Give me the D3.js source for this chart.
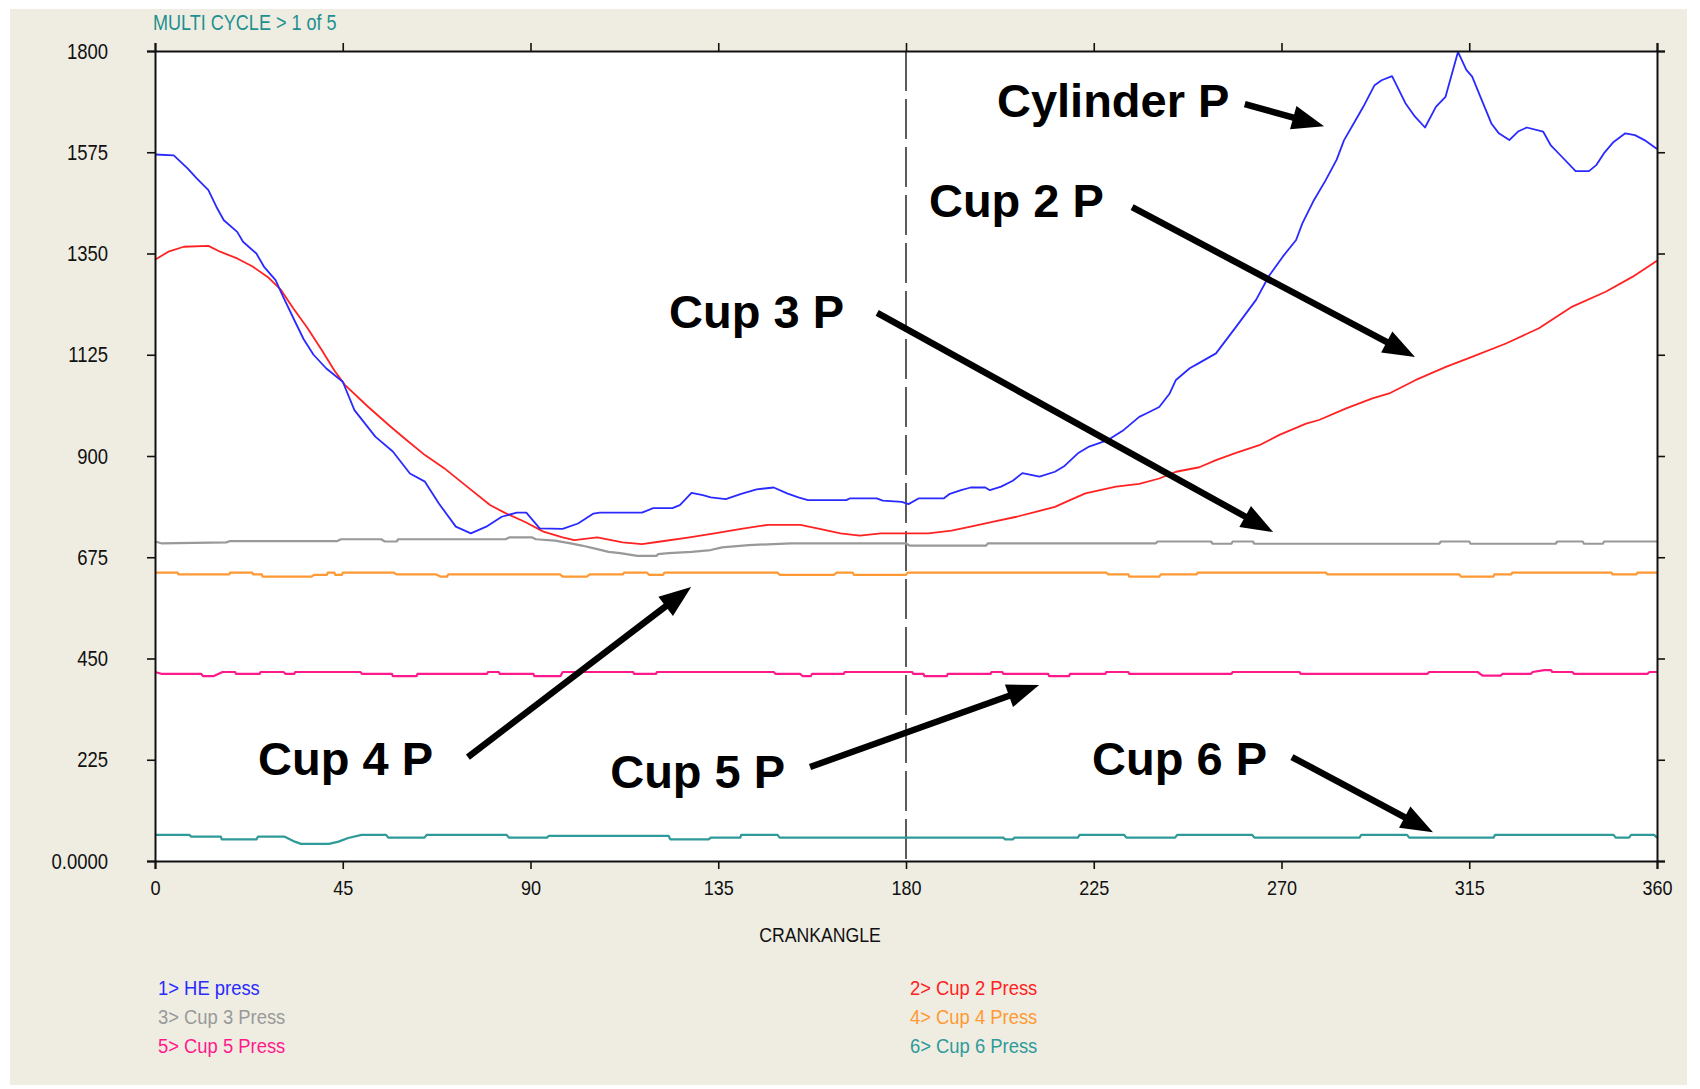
<!DOCTYPE html>
<html>
<head>
<meta charset="utf-8">
<script src="https://cdn.jsdelivr.net/npm/d3@7"></script>
<style>
  html, body { margin: 0; padding: 0; background: #ffffff; }
  svg { display: block; }
  .ui { font-family: "Liberation Sans", Arial, sans-serif; }
  .ann { font-family: "Liberation Sans", Arial, sans-serif; font-weight: bold; }
</style>
</head>
<body>
<svg id="chart" width="1700" height="1089"></svg>
<script>
// ---------------- DATA ----------------
const chartTitle = "MULTI CYCLE > 1 of 5";
const xAxisTitle = "CRANKANGLE";
const angleTicks = [0, 45, 90, 135, 180, 225, 270, 315, 360];
const pressureTicks = [0, 225, 450, 675, 900, 1125, 1350, 1575, 1800];
const pressureTickLabels = ["0.0000", "225", "450", "675", "900", "1125", "1350", "1575", "1800"];
const markerAngle = 180;

const heAngle = [0,4.5,7.8,10,12.8,14.7,16.5,19.7,21.1,24.3,26.1,28.9,30.7,33.5,35.6,38,41,45,47.8,52.8,57,61.1,64.7,68,72.1,75.7,79.4,83.1,86.7,89,92.2,97.7,101.4,105.1,106.6,116.7,119.4,124,125.8,128.6,131.3,133.2,136.8,140.5,144.2,148.3,151.5,154.2,156.5,165.7,166.6,173,174.4,179,180.6,183.1,189.1,190.5,193.2,195.5,199,200.1,202.8,205.6,207.9,212,215.7,218,221.2,223.9,228.5,232.2,235.9,237.7,240.7,243.2,244.7,248,250.3,254.3,259.1,263.9,267,270.3,273.5,275,277.8,280.6,283.2,285,287.3,289.6,292.3,294,296.5,299.7,302,304.4,307,309.3,312.3,314.3,315.7,318,320.3,322.1,324.6,326.7,328.8,332.7,334.5,337.2,340.5,343.7,345.5,347.3,349.6,352.4,354.7,357,360];
const heP = [1570,1568,1539,1517,1491,1454,1424,1398,1376,1350,1321,1291,1254,1200,1160,1125,1095,1065,1002,943,910,861,843,795,743,728,743,765,774,774,739,738,750,772,774,774,784,784,791,818,813,808,804,816,826,830,817,808,802,802,806,806,801,798,793,806,806,816,824,830,830,824,832,845,862,854,865,878,906,921,936,958,987,995,1009,1039,1069,1095,1107,1128,1187,1247,1300,1343,1380,1417,1469,1513,1558,1602,1639,1676,1724,1735,1744,1684,1654,1630,1676,1698,1798,1758,1743,1691,1639,1617,1602,1621,1630,1621,1591,1565,1533,1533,1547,1573,1598,1617,1613,1602,1582];

const cup2Angle = [0,3.2,6.9,12.8,15.6,19.7,23.4,27,30.2,33,36.5,40,43,45.5,51,56.5,60.2,64.7,69.3,74.8,80.3,84,88.6,93.1,97.7,100.5,106,112.1,116.7,121.2,128.1,134.1,140.5,146.9,154.7,159.3,164.3,168.9,174,185.4,190.9,195.5,201,206.5,211.1,215.7,219.3,223,230.3,235.9,240.7,244.7,250.3,254.3,259.1,264.7,269.5,275.9,279,285.5,291.8,295.8,302.2,309.4,315.8,323.8,331.7,339.7,347.7,354.1,360];
const cup2P = [1336,1354,1365,1367,1354,1339,1321,1298,1269,1230,1185,1135,1090,1058,1010,965,936,902,873,832,791,773,754,732,719,713,719,708,704,710,719,728,738,747,747,738,728,723,728,728,734,743,754,765,776,787,802,817,832,838,850,865,875,891,907,924,947,972,980,1006,1028,1039,1069,1098,1121,1150,1184,1232,1265,1298,1334];

const cup3Angle = [0,1.5,17.1,18,43.7,44.6,54.2,55.1,57.9,58.3,84,84.9,90.4,91.3,95.9,99.6,102.3,106,108.7,111.5,115.6,120.2,120.6,123.1,128.6,133.2,135.9,142.3,152.4,179.9,180.8,199.2,199.6,239.9,240.3,253.1,253.5,258,258.3,263.1,263.5,307.8,308.2,315,315.3,335.7,336.1,342.2,342.5,347,347.3,360];
const cup3P = [710,706,708,711,711,715,715,710,710,715,715,719,719,715,712,706,701,693,687,684,678,678,682,684,687,691,697,702,706,706,701,701,706,706,710,710,705,705,710,710,705,705,710,710,705,705,710,710,705,705,710,710];

const cup4Angle = [0,5.4,5.6,17.8,18,23.3,23.5,25.6,25.8,37.5,38.2,41.2,41.4,43,43.2,44.8,45,57.2,57.9,67.3,68.4,70,70.3,97.1,97.7,103.5,104.2,112.2,112.4,117.9,118.4,121.8,122.1,149.2,149.7,162.7,163.4,167.2,167.5,180,180.4,228,228.5,233.3,233.5,240.7,241.1,249.7,249.9,280.6,281,312.6,313,320.8,321,325.1,325.3,349.1,349.3,355.1,355.3,360];
const cup4P = [641,641,637,637,641,641,637,637,632,632,636,636,641,641,636,636,641,641,637,637,632,632,637,637,632,632,637,637,641,641,636,636,641,641,636,636,641,641,636,636,641,641,637,637,632,632,637,637,641,641,637,637,632,632,637,637,641,641,637,637,641,641];

const cup5Angle = [0,1.5,11.1,11.5,14.1,16.2,19.2,19.4,25.1,25.3,30.8,31.3,33.4,33.6,49.2,49.6,56.8,57,62.7,62.9,79.6,79.8,82.4,82.6,90.7,90.9,97.2,97.7,114.6,114.8,120.1,120.3,148.3,148.7,154.6,155.2,157.2,157.5,165.1,165.3,181.5,181.7,184.2,184.4,189.8,190,200.3,200.5,203.1,203.3,214.1,214.3,219.1,219.3,227.8,228,233.3,233.5,258,258.3,274.3,274.6,305,305.4,317,318.2,322.6,323,329.8,330.2,333,334.6,334.9,339.7,340.1,357.7,358.2,360];
const cup5P = [420,416,416,411,411,420,420,416,416,420,420,416,416,420,420,416,416,411,411,416,416,420,420,416,416,411,411,420,420,416,416,420,420,416,416,411,411,416,416,420,420,416,416,411,411,416,416,420,420,416,416,411,411,416,416,420,420,416,416,420,420,416,416,420,420,412,412,416,416,420,424,424,420,420,416,416,420,420];

const cup6Angle = [0,8.2,8.7,15.8,16,24.3,24.7,31.1,33.5,35,41.7,44,46.3,49.5,55.4,55.9,64.6,65.1,84.3,84.8,94,94.4,123.1,123.5,132.7,133.2,140.3,140.5,149.2,149.7,203.3,203.8,205.6,206,221.2,221.6,232.3,232.8,244.5,245,263,263.5,288.7,289.1,300.1,300.6,320.8,321.2,349.6,350.1,353.3,353.8,359.3,360];
const cup6P = [58,58,54,54,48,48,54,54,43,38,38,43,51,58,58,52,52,58,58,52,52,56,56,48,48,52,52,58,58,52,52,48,48,52,52,58,58,52,52,58,58,52,52,58,58,52,52,58,58,52,52,58,58,52];

const seriesNames = ["1> HE press", "2> Cup 2 Press", "3> Cup 3 Press", "4> Cup 4 Press", "5> Cup 5 Press", "6> Cup 6 Press"];
const seriesColors = ["#2a2aff", "#ff2222", "#999999", "#ff9933", "#ff1a8c", "#2e9a9a"];

// annotations in data coordinates: [label, textAngle, textValue, arrowFromAngle, arrowFromValue, arrowToAngle, arrowToValue]
const annLabels = ["Cylinder P", "Cup 2 P", "Cup 3 P", "Cup 4 P", "Cup 5 P", "Cup 6 P"];
const annTextAngle = [201.8, 185.5, 123.2, 24.7, 109.1, 224.6];
const annTextValue = [1653, 1431, 1184, 191, 162, 191];
const annFromAngle = [261.2, 234.2, 173.1, 75, 157, 272.5];
const annFromValue = [1682, 1453, 1218, 231, 209, 231];
const annToAngle = [280.2, 302, 268, 128.5, 211.9, 306.3];
const annToValue = [1633, 1120, 731, 609, 391, 64];

// ---------------- DRAW ----------------
const svg = d3.select("#chart");
const W = 1700, H = 1089;
const plot = { left: 155, right: 1657, top: 51, bottom: 861 };

svg.append("rect").attr("x", 0).attr("y", 0).attr("width", W).attr("height", H).attr("fill", "#ffffff");
svg.append("rect").attr("x", 10).attr("y", 9).attr("width", 1677).attr("height", 1076).attr("fill", "#efede2");

const x = d3.scaleLinear().domain([0, 360]).range([plot.left, plot.right]);
const y = d3.scaleLinear().domain([0, 1800]).range([plot.bottom, plot.top]);

svg.append("rect").attr("x", plot.left).attr("y", plot.top)
  .attr("width", plot.right - plot.left).attr("height", plot.bottom - plot.top)
  .attr("fill", "#ffffff");

// dashed marker at 180
svg.append("line")
  .attr("x1", x(markerAngle)).attr("x2", x(markerAngle))
  .attr("y1", plot.top).attr("y2", plot.bottom)
  .attr("stroke", "#333").attr("stroke-width", 1.6)
  .attr("stroke-dasharray", "40,8");

// series
const series = [
  [heAngle, heP], [cup2Angle, cup2P], [cup3Angle, cup3P],
  [cup4Angle, cup4P], [cup5Angle, cup5P], [cup6Angle, cup6P]
];
const drawOrder = [5, 4, 3, 2, 1, 0];
const line = d3.line().x(d => x(d[0])).y(d => y(d[1]));
drawOrder.forEach(i => {
  const [a, v] = series[i];
  const pts = a.map((ang, k) => [ang, v[k]]);
  svg.append("path").datum(pts)
    .attr("d", line)
    .attr("fill", "none")
    .attr("stroke", seriesColors[i])
    .attr("stroke-width", i < 2 ? 1.8 : 2.2)
    .attr("stroke-linejoin", "round");
});

// axes
const fmtY = d => pressureTickLabels[pressureTicks.indexOf(d)];
const axB = svg.append("g").attr("transform", `translate(0,${plot.bottom})`)
  .call(d3.axisBottom(x).tickValues(angleTicks).tickSize(8).tickPadding(11).tickFormat(d3.format("d")));
const axT = svg.append("g").attr("transform", `translate(0,${plot.top})`)
  .call(d3.axisTop(x).tickValues(angleTicks).tickSize(8).tickFormat(""));
const axL = svg.append("g").attr("transform", `translate(${plot.left},0)`)
  .call(d3.axisLeft(y).tickValues(pressureTicks).tickSize(8).tickPadding(39).tickFormat(fmtY));
const axR = svg.append("g").attr("transform", `translate(${plot.right},0)`)
  .call(d3.axisRight(y).tickValues(pressureTicks).tickSize(8).tickFormat(""));

[axB, axT, axL, axR].forEach(g => {
  g.select(".domain").attr("stroke", "#111").attr("stroke-width", 2);
  g.selectAll(".tick line").attr("stroke", "#111").attr("stroke-width", 1.6);
});
axB.selectAll(".tick text").attr("class", "ui").attr("font-size", 21).attr("fill", "#111")
  .attr("font-family", "Liberation Sans, Arial, sans-serif").attr("data-k", 0.86);
axL.selectAll(".tick text").attr("class", "ui").attr("font-size", 22).attr("fill", "#111")
  .attr("font-family", "Liberation Sans, Arial, sans-serif").attr("data-k", 0.84);

// title
svg.append("text").attr("class", "ui").attr("data-k", 0.82)
  .attr("x", 153).attr("y", 30).attr("font-size", 22).attr("fill", "#1e9090")
  .text(chartTitle);

// x axis title
svg.append("text").attr("class", "ui").attr("data-k", 0.84)
  .attr("x", 820).attr("y", 942).attr("text-anchor", "middle")
  .attr("font-size", 21).attr("fill", "#111").text(xAxisTitle);

// legend
const legX = [158, 910];
const legY = [995, 1024, 1053];
seriesNames.forEach((name, i) => {
  svg.append("text").attr("class", "ui").attr("data-k", 0.92)
    .attr("x", legX[i % 2]).attr("y", legY[Math.floor(i / 2)])
    .attr("font-size", 20).attr("fill", seriesColors[i]).text(name);
});

// annotations
annLabels.forEach((lab, i) => {
  svg.append("text").attr("class", "ann")
    .attr("x", x(annTextAngle[i])).attr("y", y(annTextValue[i]))
    .attr("font-size", 47).attr("fill", "#000").text(lab);
  const x1 = x(annFromAngle[i]), y1 = y(annFromValue[i]);
  const x2 = x(annToAngle[i]), y2 = y(annToValue[i]);
  const dx = x2 - x1, dy = y2 - y1, L = Math.hypot(dx, dy);
  const ux = dx / L, uy = dy / L, px = -uy, py = ux;
  const headL = 32, headW = 12;
  const bx = x2 - ux * headL, by = y2 - uy * headL;
  svg.append("line")
    .attr("x1", x1).attr("y1", y1)
    .attr("x2", bx + ux * 4).attr("y2", by + uy * 4)
    .attr("stroke", "#000").attr("stroke-width", 6.5);
  svg.append("path")
    .attr("d", `M${x2},${y2}L${bx + px * headW},${by + py * headW}L${bx - px * headW},${by - py * headW}Z`)
    .attr("fill", "#000");
});

// condense UI text like the original narrow screen font
svg.selectAll("text.ui").each(function () {
  const k = +this.getAttribute("data-k") || 0.85;
  const len = this.getComputedTextLength();
  this.setAttribute("textLength", (len * k).toFixed(1));
  this.setAttribute("lengthAdjust", "spacingAndGlyphs");
});
</script>
</body>
</html>
